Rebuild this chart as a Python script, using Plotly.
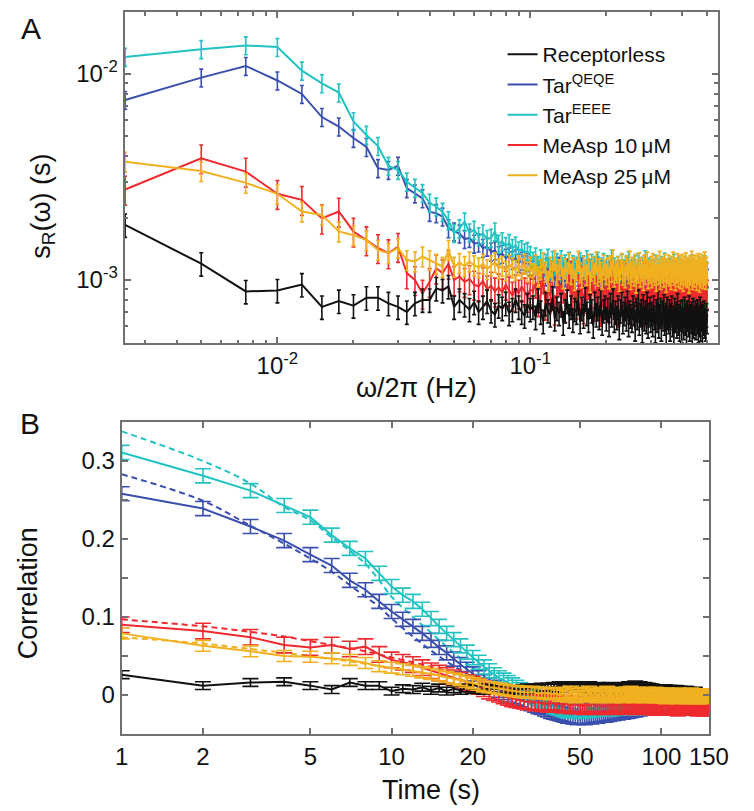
import plotly.graph_objects as go

# ---------------- Panel A: spectra (values in units of 1e-5 s) ----------------
A_SCALE = 1e-5
FREQ_A = [round(0.0025 * k, 4) for k in range(1, 201)]  # 0.0025 Hz frequency grid

A_RECEPTORLESS = [
    185,120,88,89,95,74,79,75,82,82,77,74,70,77,80,80,91,89,93,74,
    80,76,72,78,70,74,79,71,68,75,73,77,69,72,80,74,70,67,76,72,
    74,66,80,70,63,77,71,68,82,65,73,69,76,62,71,79,67,74,64,72,
    70,78,63,73,67,81,69,64,75,71,60,77,68,73,66,79,62,71,74,65,
    72,61,76,68,80,64,70,66,74,59,71,77,63,69,73,65,78,61,70,67,
    64,74,69,58,72,66,79,62,68,71,57,75,65,70,63,77,60,68,73,64,
    69,61,74,66,57,71,64,78,60,67,72,58,70,65,75,62,68,56,73,66,
    63,71,58,68,74,61,66,55,72,64,69,60,76,62,67,58,70,65,57,71,
    64,59,73,62,68,56,70,65,61,74,58,67,63,69,55,72,60,66,62,70,
    59,68,63,71,57,66,61,73,58,65,69,56,67,62,70,60,64,58,68,63]

A_QEQE = [
    748,960,1094,930,800,618,556,489,442,349,342,358,279,263,249,214,211,203,178,172,
    168,158,160,150,152,143,145,137,139,132,134,128,130,125,127,121,124,119,122,117,
    112,118,107,114,110,104,116,109,113,102,111,117,106,110,103,115,108,112,105,109,
    113,104,110,116,101,108,112,106,114,103,109,111,105,117,100,108,113,107,102,110,
    106,112,103,109,115,100,107,111,104,113,98,108,110,105,114,101,107,112,103,109,
    111,102,108,114,99,106,110,104,112,100,109,113,103,107,98,111,105,110,101,108,
    104,110,100,107,113,102,108,105,111,99,106,112,101,109,104,110,98,107,103,111,
    100,108,104,112,97,106,110,102,109,105,99,111,103,107,113,100,106,104,110,101,
    107,103,111,98,105,109,102,112,100,106,104,110,97,108,103,111,99,105,107,101,
    104,110,99,106,112,101,107,103,109,98,105,111,100,106,102,108,97,104,110,102]

A_EEEE = [
    1210,1320,1377,1352,1038,901,813,589,506,447,358,342,300,280,264,237,227,214,195,169,
    178,192,170,175,163,168,158,160,172,150,154,146,151,143,147,139,141,136,138,132,
    124,130,118,127,115,121,128,113,125,117,122,110,126,116,120,112,124,108,119,114,
    117,111,123,107,119,113,126,109,115,121,106,118,112,124,104,116,110,122,107,114,
    119,105,113,127,108,116,110,102,118,112,106,121,109,114,103,117,111,125,107,113,
    108,115,103,119,110,106,122,101,113,109,117,104,111,126,105,112,108,116,102,110,
    114,104,111,107,120,102,109,115,105,112,100,118,107,110,104,123,108,103,113,106,
    110,101,116,106,112,103,109,121,104,108,113,100,111,106,117,102,110,105,114,107,
    103,112,107,118,101,109,105,111,99,115,106,110,102,120,104,108,112,100,107,113,
    109,104,114,100,108,111,103,117,105,110,101,107,113,102,109,119,104,106,111,103]

A_MEASP10 = [
    275,390,336,262,245,199,215,172,156,143,135,145,108,100,86,98,114,108,120,100,
    104,98,101,95,93,99,90,94,88,92,87,95,89,84,91,86,93,88,83,90,
    88,97,79,85,102,76,90,84,95,72,87,99,81,92,74,88,106,80,86,93,
    77,91,84,100,73,89,82,96,78,87,104,75,90,83,97,71,88,94,79,85,
    98,74,89,81,103,77,86,92,70,95,83,88,101,76,90,79,97,73,86,91,
    80,94,72,88,99,78,85,107,74,90,83,96,71,87,93,79,102,75,89,84,
    95,73,88,81,100,76,91,84,69,97,82,89,104,74,86,93,78,99,72,87,
    83,96,75,90,80,105,73,88,94,77,85,101,71,89,82,97,76,92,79,86,
    100,74,87,93,78,84,106,72,90,81,95,76,88,83,98,70,89,92,77,85,
    79,96,73,88,102,75,86,91,71,94,82,99,77,87,84,97,73,90,80,86]

A_MEASP25 = [
    375,338,296,262,215,207,172,165,156,140,135,143,125,123,130,125,120,116,140,116,
    121,117,123,118,115,120,113,118,122,114,117,111,119,115,112,118,114,120,110,116,
    108,119,104,113,122,110,99,116,111,125,106,113,118,102,114,109,121,107,115,100,
    112,124,109,103,117,113,106,120,98,111,116,108,123,105,114,110,101,119,113,107,
    115,102,118,110,126,104,112,109,117,99,113,121,106,111,103,118,114,108,124,101,
    110,116,105,120,97,113,109,122,104,115,111,100,119,107,114,123,102,112,108,117,
    103,121,110,106,115,99,118,112,107,124,101,113,109,116,104,120,111,98,114,108,
    119,105,112,101,117,110,123,106,113,100,115,109,121,104,111,118,102,114,107,120,
    99,112,117,105,122,108,103,115,111,97,118,106,113,124,101,110,116,104,119,109,
    113,100,118,107,121,111,98,115,104,120,109,114,102,117,106,123,110,101,116,108]

# relative standard error of each spectrum
A_REL_ERR = {"rec": 0.13, "qeqe": 0.10, "eeee": 0.10, "m10": 0.16, "m25": 0.11}

# ---------------- Panel B: correlations (values in units of 1e-3) ----------------
B_SCALE = 1e-3
TIME_B = list(range(1, 151))

B_RECEPTORLESS = [
    26,12,16,17,12,7,16,12,12,5, 8,7,10,6,9,5,8,6,9,7,
    8,6,9,7,8,7,6,8,7,8, 7,9,8,9,8,10,9,10,9,11,
    10,12,11,9,12,10,11,12,9,11, 10,9,11,12,8,10,9,11,8,9,
    8,10,7,9,11,8,7,9,8,10, 9,10,8,11,9,12,10,12,11,13,
    11,10,12,10,9,11,10,8,10,9, 7,9,8,6,8,7,5,8,6,8,
    7,5,8,6,4,7,5,7,6,4, 6,4,7,5,3,6,4,3,5,3,
    5,3,6,4,2,5,3,2,4,2, 4,2,5,3,1,3,2,1,3,1,
    2,1,3,1,0,2,1,2,0,1]

B_QEQE = [
    258,239,216,198,180,166,147,135,120,107, 97,88,79,70,61,54,46,39,33,27,
    22,17,13,10,6,3,0,-2,-4,-6, -8,-10,-11,-13,-15,-16,-18,-19,-21,-22,
    -23,-24,-25,-26,-27,-27,-28,-28,-29,-28, -28,-29,-28,-27,-28,-27,-26,-27,-26,-25,
    -25,-26,-24,-25,-23,-24,-23,-22,-23,-22, -21,-22,-21,-20,-21,-19,-20,-19,-18,-19,
    -18,-17,-18,-17,-16,-17,-16,-15,-16,-15, -15,-16,-14,-15,-14,-15,-13,-14,-14,-13,
    -14,-13,-12,-14,-13,-12,-13,-12,-14,-13, -12,-13,-12,-13,-14,-12,-13,-12,-13,-12,
    -12,-13,-14,-12,-13,-11,-13,-12,-13,-12, -12,-13,-11,-13,-12,-13,-12,-13,-11,-12,
    -12,-13,-12,-13,-11,-12,-12,-13,-12,-12]

B_EEEE = [
    311,281,262,243,228,205,188,175,156,139, 128,120,110,98,88,79,71,63,55,48,
    42,36,31,26,22,19,16,13,10,7, 5,2,0,-3,-5,-7,-9,-11,-13,-15,
    -16,-17,-18,-19,-20,-20,-19,-20,-20,-21, -20,-19,-20,-19,-18,-19,-18,-17,-18,-17,
    -17,-18,-16,-17,-18,-16,-17,-15,-17,-16, -15,-17,-16,-14,-16,-15,-17,-14,-16,-15,
    -14,-16,-15,-13,-15,-16,-14,-15,-13,-15, -16,-14,-13,-15,-14,-12,-15,-13,-14,-16,
    -13,-15,-14,-12,-14,-15,-13,-14,-12,-15, -14,-13,-15,-12,-14,-13,-11,-14,-13,-15,
    -12,-14,-13,-11,-14,-12,-15,-13,-12,-14, -13,-11,-14,-12,-13,-15,-12,-13,-11,-14,
    -12,-13,-14,-11,-13,-12,-14,-12,-13,-12]

B_MEASP10 = [
    90,82,74,64,61,64,59,62,52,45, 42,39,35,31,28,25,22,19,16,14,
    11,8,5,3,1,-1,-3,-5,-6,-7, -8,-9,-8,-10,-9,-11,-10,-12,-9,-11,
    -12,-10,-13,-11,-12,-14,-11,-13,-12,-14, -13,-15,-12,-14,-13,-11,-15,-12,-14,-13,
    -15,-12,-14,-11,-13,-15,-12,-14,-10,-13, -14,-12,-15,-11,-13,-14,-12,-9,-13,-15,
    -12,-14,-11,-13,-15,-12,-14,-10,-13,-15, -14,-11,-13,-16,-12,-14,-13,-15,-11,-14,
    -15,-13,-16,-12,-14,-16,-13,-15,-12,-16, -14,-16,-13,-15,-17,-14,-16,-13,-16,-15,
    -15,-13,-16,-14,-15,-12,-15,-16,-13,-15, -14,-16,-15,-13,-15,-17,-14,-15,-14,-16,
    -15,-13,-17,-14,-16,-15,-13,-17,-14,-16]

B_MEASP25 = [
    79,63,56,50,49,47,45,41,37,35, 33,31,29,27,25,23,21,19,17,15,
    13,11,10,9,8,7,6,5,5,4, 4,3,4,3,2,3,2,3,1,2,
    2,-1,3,0,-2,4,1,-3,2,-1, 3,-2,1,4,-1,0,2,-3,1,3,
    -2,1,4,-1,2,-3,0,3,-2,1, 2,-3,-1,3,0,-2,4,-1,1,-3,
    0,3,-2,1,-1,2,-3,0,3,-2, -1,2,-3,0,3,-2,1,-3,0,2,
    -3,1,-1,-4,2,-2,0,-3,1,-1, -2,1,-3,0,-4,2,-1,-3,1,-2,
    0,-3,1,-2,-4,0,-1,-3,2,-2, -1,-4,0,-2,1,-3,-1,-4,0,-2,
    -3,1,-2,-4,0,-1,-3,-2,0,-3]

# standard errors (absolute, units of 1e-3)
B_ERR = {"rec": 5, "qeqe": 9, "eeee": 9, "m10": 10, "m25": 7}

# model fits (dashed), sampled at these lags
FIT_TIME_B = [1,2,3,4,5,6,7,8,9,10,12,14,16,18,20,23,26,30,35,40,45,50,60,70,80,100,120,150]
FIT_QEQE = [283,249,217,194,175,158,141,126,113,98,75,57,43,32,23,12,4,-5,-14,-21,-25,-27,-27,-24,-21,-16,-13,-12]
FIT_EEEE = [338,300,271,241,224,202,185,168,147,126,100,80,62,47,35,20,9,-2,-10,-16,-19,-20,-19,-18,-16,-14,-12,-10]
FIT_MEASP10 = [97,88,81,75,69,64,60,56,52,48,42,36,31,27,23,17,12,7,2,-2,-5,-7,-9,-10,-11,-11,-11,-10]
FIT_MEASP25 = [74,66,59,54,50,46,43,40,37,35,30,27,23,20,17,14,11,8,5,3,2,1,0,0,-1,-1,-1,-1]

LABELS = {"rec": "Receptorless", "qeqe": "Tar<sup>QEQE</sup>", "eeee": "Tar<sup>EEEE</sup>",
          "m10": "MeAsp 10\u2009\u03bcM", "m25": "MeAsp 25\u2009\u03bcM"}

A_X_TICKS = [0.01, 0.1]
A_X_TICKTEXT = ["10<sup>-2</sup>", "10<sup>-1</sup>"]
A_Y_TICKS = [0.001, 0.01]
A_Y_TICKTEXT = ["10<sup>-3</sup>", "10<sup>-2</sup>"]
B_X_TICKS = [1, 2, 5, 10, 20, 50, 100, 150]
B_X_TICKTEXT = ["1", "2", "5", "10", "20", "50", "100", "150"]
B_Y_TICKS = [0, 0.1, 0.2, 0.3]
B_Y_TICKTEXT = ["0", "0.1", "0.2", "0.3"]
B_Y_MINOR = [0.05, 0.15, 0.25]

# ---------------- styling ----------------
COLORS = {"rec": "#111111", "qeqe": "#3a4fae", "eeee": "#22c2c2", "m10": "#ee2a2e", "m25": "#f0b020"}
RANK = {"rec": 1, "qeqe": 2, "eeee": 3, "m10": 4, "m25": 5}
DRAW_ORDER = ["qeqe", "eeee", "m10", "rec", "m25"]
AXIS_GREY = "#707070"
FONT = "Arial, 'Liberation Sans', Helvetica, sans-serif"

A_DATA = {"rec": A_RECEPTORLESS, "qeqe": A_QEQE, "eeee": A_EEEE, "m10": A_MEASP10, "m25": A_MEASP25}
B_DATA = {"rec": B_RECEPTORLESS, "qeqe": B_QEQE, "eeee": B_EEEE, "m10": B_MEASP10, "m25": B_MEASP25}
B_FITS = {"qeqe": FIT_QEQE, "eeee": FIT_EEEE, "m10": FIT_MEASP10, "m25": FIT_MEASP25}

fig = go.Figure()

for key in DRAW_ORDER:
    y = [v * A_SCALE for v in A_DATA[key]]
    fig.add_trace(go.Scatter(
        x=FREQ_A, y=y, mode="lines", name=LABELS[key], legendrank=RANK[key],
        line=dict(color=COLORS[key], width=2),
        error_y=dict(type="data", array=[v * A_REL_ERR[key] for v in y],
                     color=COLORS[key], thickness=1.6, width=2),
        xaxis="x", yaxis="y"))

for key in DRAW_ORDER:
    if key in B_FITS:
        fig.add_trace(go.Scatter(
            x=FIT_TIME_B, y=[v * B_SCALE for v in B_FITS[key]], mode="lines",
            line=dict(color=COLORS[key], width=2, dash="6px,4px", shape="spline"),
            showlegend=False, xaxis="x2", yaxis="y2"))

for key in DRAW_ORDER:
    y = [v * B_SCALE for v in B_DATA[key]]
    fig.add_trace(go.Scatter(
        x=TIME_B, y=y, mode="lines", showlegend=False,
        line=dict(color=COLORS[key], width=2),
        error_y=dict(type="constant", value=B_ERR[key] * B_SCALE,
                     color=COLORS[key], thickness=1.6, width=8),
        xaxis="x2", yaxis="y2"))

W, H = 754, 811
def px_x(p): return p / W
def px_y(p): return 1 - p / H

axis_common = dict(showline=True, linecolor=AXIS_GREY, linewidth=2, mirror="ticks",
                   ticks="inside", ticklen=6, tickwidth=1.5, tickcolor=AXIS_GREY,
                   showgrid=False, zeroline=False,
                   tickfont=dict(family=FONT, size=24, color="#111111"))

minor_ax = [v * 1e-3 for v in (3, 4, 5, 6, 7, 8, 9)] + [v * 1e-2 for v in (2, 3, 4, 5, 6, 7, 8, 9)] + [v * 1e-1 for v in (2, 3, 4, 5)]
minor_ay = [v * 1e-4 for v in (6, 7, 8, 9)] + [v * 1e-3 for v in (2, 3, 4, 5, 6, 7, 8, 9)]

fig.update_layout(
    width=W, height=H, margin=dict(l=0, r=0, t=0, b=0),
    paper_bgcolor="white", plot_bgcolor="white",
    font=dict(family=FONT, color="#111111"),
    xaxis=dict(type="log", range=[-2.604, -0.259], domain=[px_x(122), px_x(737)], anchor="y",
               tickmode="array", tickvals=A_X_TICKS, ticktext=A_X_TICKTEXT,
               minor=dict(tickmode="array", tickvals=minor_ax, ticks="inside", ticklen=3.5,
                          tickcolor=AXIS_GREY, tickwidth=1.5),
               **axis_common),
    yaxis=dict(type="log", range=[-3.306, -1.699], domain=[px_y(343), px_y(12)], anchor="x",
               tickmode="array", tickvals=A_Y_TICKS, ticktext=A_Y_TICKTEXT,
               minor=dict(tickmode="array", tickvals=minor_ay, ticks="inside", ticklen=3.5,
                          tickcolor=AXIS_GREY, tickwidth=1.5),
               **axis_common),
    xaxis2=dict(type="log", range=[0, 2.1761], domain=[px_x(119), px_x(728)], anchor="y2",
                tickmode="array", tickvals=B_X_TICKS, ticktext=B_X_TICKTEXT, **axis_common),
    yaxis2=dict(range=[-0.05, 0.35], domain=[px_y(734), px_y(422)], anchor="x2",
                tickmode="array", tickvals=B_Y_TICKS, ticktext=B_Y_TICKTEXT,
                minor=dict(tickmode="array", tickvals=B_Y_MINOR, ticks="inside", ticklen=6,
                           tickcolor=AXIS_GREY, tickwidth=1.5),
                **axis_common),
    legend=dict(x=px_x(514), y=px_y(34), xanchor="left", yanchor="top",
                bgcolor="rgba(0,0,0,0)", font=dict(family=FONT, size=21, color="#111111"),
                tracegroupgap=0),
    showlegend=True,
)

title_font = dict(family=FONT, size=27, color="#111111")
annots = [
    dict(text="A", x=px_x(25), y=px_y(29), font=dict(family=FONT, size=30, color="#111111")),
    dict(text="B", x=px_x(24), y=px_y(423), font=dict(family=FONT, size=30, color="#111111")),
    dict(text="s<sub>R</sub>(\u03c9) (s)", x=px_x(37), y=px_y(206), textangle=-90, font=title_font),
    dict(text="\u03c9/2\u03c0 (Hz)", x=px_x(425), y=px_y(388), font=title_font),
    dict(text="Correlation", x=px_x(22), y=px_y(593), textangle=-90, font=title_font),
    dict(text="Time (s)", x=px_x(440), y=px_y(790), font=title_font),
]
for a in annots:
    fig.add_annotation(xref="paper", yref="paper", showarrow=False,
                       xanchor="center", yanchor="middle", **a)

fig.write_html("out.html")
